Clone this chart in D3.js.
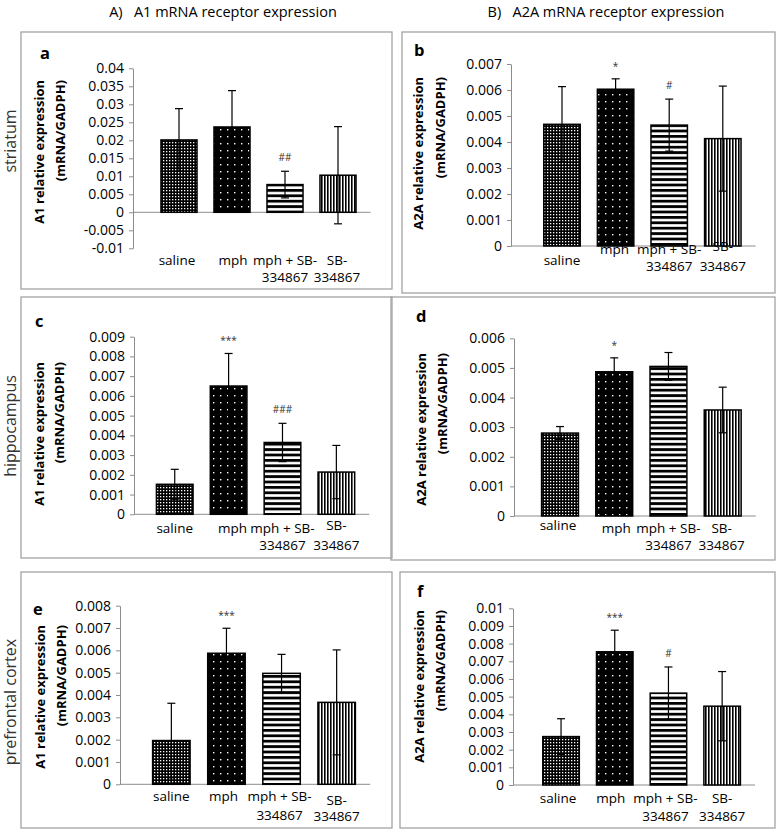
<!DOCTYPE html>
<html><head><meta charset="utf-8">
<script src="https://cdn.jsdelivr.net/npm/d3@7/dist/d3.min.js"></script>
<style>body{margin:0;background:#fff}svg{display:block}text{font-family:"Open Sans",sans-serif}</style>
</head><body><svg id="c" width="777" height="830"></svg>
<script>
// ---------------- DATA ----------------
const categories = ["saline", "mph", "mph + SB-334867", "SB-334867"];
const categoryLines = [["saline"], ["mph"], ["mph + SB-", "334867"], ["SB-", "334867"]];
const headers = ["A)   A1 mRNA receptor expression", "B)   A2A mRNA receptor expression"];
const regions = ["striatum", "hippocampus", "prefrontal cortex"];
const panelLetters = ["a", "b", "c", "d", "e", "f"];
const yTitlesA1 = ["A1 relative expression", "(mRNA/GADPH)"];
const yTitlesA2A = ["A2A relative expression", "(mRNA/GADPH)"];

const valuesA = [0.0201, 0.0237, 0.0077, 0.0103];
const errorsA = [0.0087, 0.0101, 0.0037, 0.0135];
const signifA = ["", "", "##", ""];
const ticksA = [-0.01, -0.005, 0, 0.005, 0.01, 0.015, 0.02, 0.025, 0.03, 0.035, 0.04];

const valuesB = [0.00468, 0.00603, 0.00465, 0.00413];
const errorsB = [0.00145, 0.0004, 0.001, 0.00202];
const signifB = ["", "*", "#", ""];
const ticksB = [0, 0.001, 0.002, 0.003, 0.004, 0.005, 0.006, 0.007];

const valuesC = [0.00152, 0.0065, 0.00364, 0.00214];
const errorsC = [0.00076, 0.00165, 0.00097, 0.00135];
const signifC = ["", "***", "###", ""];
const ticksC = [0, 0.001, 0.002, 0.003, 0.004, 0.005, 0.006, 0.007, 0.008, 0.009];

const valuesD = [0.0028, 0.00487, 0.00505, 0.00358];
const errorsD = [0.00022, 0.00047, 0.00047, 0.00077];
const signifD = ["", "*", "", ""];
const ticksD = [0, 0.001, 0.002, 0.003, 0.004, 0.005, 0.006];

const valuesE = [0.00196, 0.00587, 0.00497, 0.00367];
const errorsE = [0.00167, 0.00112, 0.00085, 0.00235];
const signifE = ["", "***", "", ""];
const ticksE = [0, 0.001, 0.002, 0.003, 0.004, 0.005, 0.006, 0.007, 0.008];

const valuesF = [0.00274, 0.00754, 0.0052, 0.00446];
const errorsF = [0.00101, 0.00122, 0.00148, 0.00196];
const signifF = ["", "***", "#", ""];
const ticksF = [0, 0.001, 0.002, 0.003, 0.004, 0.005, 0.006, 0.007, 0.008, 0.009, 0.01];

// ---------------- LAYOUT ----------------
const panels = [
  {letter: panelLetters[0], values: valuesA, errors: errorsA, signif: signifA, ticks: ticksA, title: yTitlesA1,
   box: [21, 32, 371, 257], axisX: 133, yRange: [248.3, 68.3], xRange: [152.5, 364.5], zeroExt: 6,
   letterPos: [40, 59], titleX: [39, 60], titleTop: 80,
   labY: [264.5, 264.5, 264.5, 264.5], lab2Y: [281.5, 281.5], labDx: [-2, 1, 0, -1]},
  {letter: panelLetters[1], values: valuesB, errors: errorsB, signif: signifB, ticks: ticksB, title: yTitlesA2A,
   box: [402, 32, 373, 261], axisX: 511, yRange: [246, 64], xRange: [535.2, 749.6], zeroExt: 6,
   letterPos: [414, 56], titleX: [418, 440], titleTop: 77,
   labY: [264.5, 253.5, 253.5, 251.2], lab2Y: [271.2, 271.2], labDx: [0, -1, 0, 0]},
  {letter: panelLetters[2], values: valuesC, errors: errorsC, signif: signifC, ticks: ticksC, title: yTitlesA1,
   box: [21, 297, 371, 261], axisX: 134, yRange: [514.3, 336.7], xRange: [147.8, 363.3], zeroExt: 6,
   letterPos: [35, 327], titleX: [39, 59], titleTop: 362,
   labY: [532.8, 532.8, 532.8, 529.5], lab2Y: [549.5, 549.5], labDx: [0, 4, 0, 0]},
  {letter: panelLetters[3], values: valuesD, errors: errorsD, signif: signifD, ticks: ticksD, title: yTitlesA2A,
   box: [391, 297, 384, 263], axisX: 514, yRange: [516, 338.3], xRange: [532.9, 749.8], zeroExt: 6,
   letterPos: [416, 322], titleX: [421, 442], titleTop: 353,
   labY: [529.5, 533, 533, 533], lab2Y: [550, 550], labDx: [-2, 2, 0, -1]},
  {letter: panelLetters[4], values: valuesE, errors: errorsE, signif: signifE, ticks: ticksE, title: yTitlesA1,
   box: [21, 572, 371, 256], axisX: 120, yRange: [784.3, 605.7], xRange: [143.8, 364.2], zeroExt: 6,
   letterPos: [33, 615], titleX: [40, 61], titleTop: 625,
   labY: [801.2, 801.2, 801.2, 804.5], lab2Y: [819.5, 821.2], labDx: [0, -3, -2, 0]},
  {letter: panelLetters[5], values: valuesF, errors: errorsF, signif: signifF, ticks: ticksF, title: yTitlesA2A,
   box: [400, 572, 375, 256], axisX: 513, yRange: [785, 608.3], xRange: [534.2, 749], zeroExt: 6,
   letterPos: [417, 597], titleX: [419, 440], titleTop: 610,
   labY: [802.8, 802.8, 802.8, 802.8], lab2Y: [820.5, 820.5], labDx: [-3, -4, -3, 0]}
];

const svg = d3.select("#c");
const defs = svg.append("defs");

// patterns
const p1 = defs.append("pattern").attr("id", "patSaline").attr("patternUnits", "userSpaceOnUse").attr("width", 3).attr("height", 3);
p1.append("rect").attr("width", 3).attr("height", 3).attr("fill", "#000");
p1.append("rect").attr("x", 1).attr("y", 1).attr("width", 1.3).attr("height", 1.3).attr("fill", "#fff");

const p2 = defs.append("pattern").attr("id", "patMph").attr("patternUnits", "userSpaceOnUse").attr("width", 7).attr("height", 7);
p2.append("rect").attr("width", 7).attr("height", 7).attr("fill", "#000");
p2.append("rect").attr("x", 3).attr("y", 3).attr("width", 1.4).attr("height", 1.4).attr("fill", "#fff");

const p3 = defs.append("pattern").attr("id", "patMphSB").attr("patternUnits", "userSpaceOnUse").attr("width", 10).attr("height", 5.4);
p3.append("rect").attr("width", 10).attr("height", 5.4).attr("fill", "#fff");
p3.append("rect").attr("y", 0).attr("width", 10).attr("height", 2.8).attr("fill", "#000");

const p4 = defs.append("pattern").attr("id", "patSB").attr("patternUnits", "userSpaceOnUse").attr("width", 3).attr("height", 10);
p4.append("rect").attr("width", 3).attr("height", 10).attr("fill", "#fff");
p4.append("rect").attr("x", 0).attr("width", 1.6).attr("height", 10).attr("fill", "#000");

const fills = ["url(#patSaline)", "url(#patMph)", "url(#patMphSB)", "url(#patSB)"];
const axisColor = "#8c8c8c";
const fmt = d => d === 0 ? "0" : String(+d.toFixed(4));

// headers
svg.append("text").attr("x", 223).attr("y", 17).attr("text-anchor", "middle")
  .attr("font-size", 14.5).style("white-space", "pre").text(headers[0]);
svg.append("text").attr("x", 606).attr("y", 17).attr("text-anchor", "middle")
  .attr("font-size", 14.5).style("white-space", "pre").text(headers[1]);

// region labels
const regionY = [141, 426, 702];
regions.forEach((r, i) => {
  svg.append("text").attr("transform", `translate(16,${regionY[i]}) rotate(-90)`)
    .attr("text-anchor", "middle").attr("font-size", 16).attr("font-weight", 400).attr("fill", "#333").text(r);
});

panels.forEach(p => {
  const g = svg.append("g");
  const [bx, by, bw, bh] = p.box;
  g.append("rect").attr("x", bx).attr("y", by).attr("width", bw).attr("height", bh)
    .attr("fill", "none").attr("stroke", "#a3a3a3").attr("stroke-width", 1.3);

  const y = d3.scaleLinear().domain([p.ticks[0], p.ticks[p.ticks.length - 1]]).range(p.yRange);
  const x = d3.scaleBand().domain(categories).range(p.xRange).paddingInner(0.32).paddingOuter(0.16);

  // y axis
  const yAxis = d3.axisLeft(y).tickValues(p.ticks).tickFormat(fmt).tickSizeOuter(0).tickSizeInner(4).tickPadding(5);
  const ya = g.append("g").attr("transform", `translate(${p.axisX},0)`).call(yAxis);
  ya.select(".domain").attr("stroke", axisColor);
  ya.selectAll(".tick line").attr("stroke", axisColor);
  ya.selectAll(".tick text").attr("font-size", 14).attr("font-family", "Open Sans").attr("fill", "#000");

  // zero baseline
  g.append("line").attr("x1", p.axisX).attr("x2", p.xRange[1] + p.zeroExt)
    .attr("y1", y(0)).attr("y2", y(0)).attr("stroke", axisColor).attr("stroke-width", 1);

  // bars
  g.selectAll("rect.bar").data(p.values).enter().append("rect").attr("class", "bar")
    .attr("x", (d, i) => x(categories[i]))
    .attr("width", x.bandwidth())
    .attr("y", d => y(d))
    .attr("height", d => y(0) - y(d))
    .attr("fill", (d, i) => fills[i])
    .attr("stroke", "#000").attr("stroke-width", 1.5);

  // error bars
  const cap = 4;
  p.values.forEach((v, i) => {
    const cx = x(categories[i]) + x.bandwidth() / 2;
    const e = p.errors[i];
    const eg = g.append("g").attr("stroke", "#000").attr("stroke-width", 1.2);
    eg.append("line").attr("x1", cx).attr("x2", cx).attr("y1", y(v - e)).attr("y2", y(v + e));
    eg.append("line").attr("x1", cx - cap).attr("x2", cx + cap).attr("y1", y(v + e)).attr("y2", y(v + e));
    eg.append("line").attr("x1", cx - cap).attr("x2", cx + cap).attr("y1", y(v - e)).attr("y2", y(v - e));
    if (p.signif[i]) {
      g.append("text").attr("x", cx).attr("y", y(v + e) - (p.signif[i][0] === "*" ? 9 : 10))
        .attr("text-anchor", "middle").attr("font-size", 10).attr("fill", "#333").text(p.signif[i]);
    }
  });

  // category labels
  categoryLines.forEach((lines, i) => {
    const cx = x(categories[i]) + x.bandwidth() / 2 + p.labDx[i];
    lines.forEach((t, j) => {
      const yy = j === 0 ? p.labY[i] : p.lab2Y[i - 2];
      g.append("text").attr("x", cx).attr("y", yy).attr("text-anchor", "middle")
        .attr("font-size", 13.5).text(t);
    });
  });

  // panel letter
  g.append("text").attr("x", p.letterPos[0]).attr("y", p.letterPos[1])
    .attr("font-size", 16.5).attr("font-weight", 700).text(p.letter);

  // y title (two lines, top aligned)
  p.title.forEach((t, j) => {
    g.append("text").attr("transform", `translate(${p.titleX[j] + 4.5},${p.titleTop}) rotate(-90)`)
      .attr("text-anchor", "end").attr("font-size", 13).attr("font-weight", 700).text(t);
  });
});
</script></body></html>
